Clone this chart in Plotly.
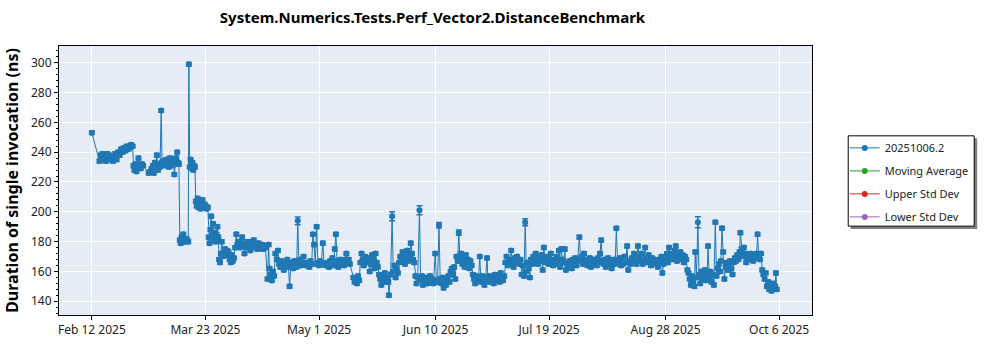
import pandas as pd
import plotly.graph_objects as go

TITLE = "System.Numerics.Tests.Perf_Vector2.DistanceBenchmark"
Y_TITLE = "Duration of single invocation (ns)"
SERIES_NAME = "20251006.2"
EMPTY_SERIES = ["Moving Average", "Upper Std Dev", "Lower Std Dev"]
EMPTY_COLORS = ["#2ca02c", "#d62728", "#9467bd"]

START = "2025-02-12"
# run offsets in days from START
days = [
    0.0, 2.6, 3.0, 3.3, 3.7, 4.0, 4.4, 4.8, 5.2, 5.6, 6.0, 6.4, 6.8, 7.2, 7.6, 8.0, 8.5, 9.0, 9.5, 10.0,
    10.5, 11.0, 11.5, 12.0, 12.5, 13.0, 13.5, 14.0,
    14.3, 14.6, 15.0, 15.3, 15.7, 16.0, 16.4, 16.8, 17.2, 17.6,
    19.5, 20.0, 20.5, 21.0, 21.3, 21.7, 22.0, 22.3, 22.7, 23.0, 23.4, 23.8, 24.1, 24.5, 25.0,
    25.5, 26.0, 26.4, 26.8, 27.2, 27.6, 28.0, 28.3, 28.7, 29.0, 29.3, 29.6, 29.9,
    30.2, 30.5, 30.8, 31.1, 31.4, 31.7, 32.0, 32.4, 32.8, 33.1, 33.3,
    33.6, 33.9, 34.2, 34.5, 34.8, 35.1, 35.4,
    35.7, 36.0, 36.3, 36.6, 37.0, 37.3, 37.6, 38.0, 38.3, 38.7, 39.0, 39.4, 39.8,
    40.1, 40.4, 40.7, 41.0, 41.3, 41.6, 41.9, 42.2, 42.5, 42.8, 43.1, 43.4,
    43.7, 44.0, 44.3, 44.6, 44.9,
    45.3, 45.7, 46.1, 46.5, 46.9, 47.3, 47.7, 48.0, 48.4, 48.8, 49.2,
    49.6, 50.0, 50.4, 50.8, 51.2, 51.6, 52.0, 52.4, 52.8, 53.2, 53.6, 54.0, 54.4, 54.8, 55.2, 55.6,
    56.0, 56.4, 56.8, 57.2, 57.6, 58.0, 58.4, 58.8, 59.2, 59.6,
    60.3, 60.7, 61.0, 61.4, 61.8, 62.2, 62.6, 63.0,
    63.5, 63.9, 64.3, 64.7, 65.1, 65.5, 65.9, 66.3, 66.7, 67.1, 67.5, 67.9, 68.3, 68.7, 69.1, 69.5,
    69.9, 70.3, 70.7, 71.1, 71.5, 71.9, 72.3, 72.7, 73.1,
    73.5, 73.9, 74.3, 74.7, 75.1, 75.5, 75.9, 76.3, 76.7, 77.2, 77.6, 78.0, 78.4, 78.8, 79.3, 79.8, 80.2,
    81.0, 81.4, 81.8, 82.2, 82.6, 83.0, 83.4, 83.8, 84.2, 84.6, 85.0, 85.4, 85.8, 86.2, 86.6, 87.0,
    87.4, 87.8, 88.2, 88.6,
    89.8, 90.2, 90.6, 91.0, 91.4, 91.8,
    92.2, 92.6, 93.0, 93.4, 93.8, 94.2, 94.6, 95.0, 95.4, 95.8, 96.2, 96.6, 97.0, 97.4, 97.8, 98.2,
    98.6, 99.0, 99.4, 99.8, 100.2, 100.6, 101.0, 101.4, 101.8, 102.0, 102.6, 103.1,
    103.5, 103.9, 104.3, 104.7, 105.1, 105.5, 105.9, 106.3, 106.7, 107.1, 107.5, 107.9, 108.3, 108.7,
    109.1, 109.5, 109.9, 110.3, 110.7, 111.1,
    111.5, 111.9, 112.5, 112.9, 113.3, 113.7, 114.1, 114.5, 114.9, 115.3, 115.7, 116.1, 116.5, 116.9,
    117.3, 117.9, 118.3, 118.7, 119.2, 119.6, 120.0, 120.4, 120.8, 121.2, 121.6, 122.0, 122.4, 122.8,
    123.2, 123.6,
    124.0, 124.4, 124.8, 125.2, 125.6, 126.0, 126.4, 126.8, 127.2, 127.6, 128.0, 128.4, 128.8, 129.2,
    129.6, 130.0, 130.4,
    130.8, 131.2, 131.6, 132.0, 132.4, 132.8, 133.2, 133.6, 134.0, 134.4, 134.8, 135.2, 135.7, 136.0,
    136.4, 136.8, 137.2, 137.6, 138.0, 138.4, 138.8, 139.2, 139.6, 140.0, 140.4, 140.8, 141.2, 141.6,
    142.0, 142.4, 142.8, 143.2, 143.6, 144.0, 144.4, 144.8, 145.2, 145.6, 146.0, 146.4, 146.8, 147.2,
    147.6, 148.0, 148.4, 148.8, 149.2, 149.6, 150.0, 150.4, 150.8, 151.2,
    151.6, 152.0, 152.4, 152.8, 153.2, 153.6, 154.0, 154.4, 154.8, 155.2, 155.6, 156.0, 156.4, 156.8,
    157.2, 157.6,
    158.0, 158.4, 158.8, 159.2, 159.6, 160.0, 160.4, 160.8, 161.2, 161.6, 162.0, 162.4, 162.8, 163.2,
    163.6, 164.0, 164.4, 164.8, 165.2, 165.6, 166.0, 166.4, 166.8, 167.4,
    167.8, 168.2, 168.6, 169.0, 169.4, 169.8, 170.2, 170.6, 171.0, 171.4, 171.8, 172.2, 172.6, 173.0,
    173.4, 173.8, 174.2, 174.5, 174.9, 175.3, 175.7, 176.1, 176.5, 176.9, 177.3, 177.7, 178.1, 178.5,
    178.9, 179.3, 179.7, 180.1, 180.5,
    180.9, 181.3, 181.7, 182.1, 182.5, 182.9, 183.3, 183.8, 184.2, 184.6, 185.0, 185.4, 185.8, 186.2,
    186.6, 187.0, 187.5, 187.9, 188.3, 188.7, 189.1, 189.5, 190.0, 190.4, 190.8, 191.2, 191.6, 192.0,
    192.4, 192.8, 193.2, 193.6, 194.0, 194.4, 194.8, 195.2, 195.6, 195.9, 196.3, 196.7, 197.1, 197.5,
    197.8, 198.2,
    198.6, 199.0, 199.4, 199.8, 200.2, 200.5, 200.9, 201.3, 201.7, 202.1, 202.5, 202.9, 203.3, 203.7,
    204.1, 204.5, 204.9,
    205.3, 205.7, 206.1, 206.5, 206.9, 207.2, 207.6, 208.1, 208.5, 208.9, 209.3, 209.7,
    210.1, 210.5, 210.9, 211.3, 211.6, 212.0, 212.4, 212.8, 213.2, 213.6, 214.1, 214.5,
    214.9, 215.3, 215.7, 216.0, 216.4, 216.8, 217.2, 217.6, 218.0, 218.4, 218.8, 219.2, 219.6, 220.0,
    220.4, 220.8, 221.2, 221.6, 222.0, 222.4, 222.7, 223.1, 223.5, 223.9, 224.3, 224.7, 225.1, 225.5,
    225.9, 226.3, 226.7, 227.1, 227.5, 227.9, 228.3, 228.6, 229.0, 229.4, 229.8,
    230.2, 230.6, 231.0, 231.4, 231.8, 232.2, 232.6, 233.0, 233.4, 233.8, 234.2, 234.6, 234.9, 235.2,
]

durations = [
    253, 234, 238, 236, 239, 235, 237, 234, 239, 236, 238, 235, 237, 234, 236, 239, 235, 240, 238, 242,
    240, 243, 241, 244, 242, 243, 245, 244,
    231, 228, 232, 227, 230, 236, 231, 229, 232, 231,
    226, 227, 229, 231, 226, 233, 230, 238, 228, 232, 230, 268, 233, 234, 231,
    235, 232, 230, 236, 233, 231, 235, 225, 232, 236, 240, 233, 232,
    181, 179, 183, 180, 185, 181, 180, 182, 181, 180, 299,
    230, 235, 229, 233, 228, 231, 230,
    207, 204, 209, 203, 206, 202, 205, 208, 203, 205, 204, 202, 203,
    183, 179, 188, 197, 184, 192, 181, 186, 180, 185, 190, 183,
    168, 166, 172, 180, 170,
    172, 175, 171, 174, 173, 168, 166, 171, 167, 169, 176,
    185, 178, 180, 176, 179, 183, 177, 172, 179, 176, 180, 178, 174, 179, 177, 181,
    176, 178, 175, 179, 177, 176, 178, 175, 177, 176,
    155, 178, 162, 158, 154, 160, 157, 172,
    168, 174, 165, 163, 167, 164, 161, 166, 165, 168, 163, 150, 164, 166, 162, 167,
    165, 163, 194, 166, 168, 164, 166, 170, 165,
    164, 166, 165, 163, 167, 165, 185, 178, 165, 190, 166, 164, 167, 166, 179, 165, 164,
    166, 163, 167, 165, 169, 164, 175, 185, 167, 163, 166, 168, 165, 167, 164, 168,
    172, 166, 168, 165,
    156, 153, 155, 152, 157, 154,
    166, 172, 168, 164, 170, 166, 169, 167, 160, 165, 171, 168, 162, 172, 166, 163,
    158, 155, 151, 157, 154, 159, 153, 156, 153, 144, 158, 197,
    160, 164, 156, 162, 159, 166, 170, 167, 173, 168, 165, 171, 174, 167,
    170, 179, 172, 168, 166, 157,
    152, 156, 201, 154, 157, 151, 155, 153, 156, 152, 154, 157, 153, 155,
    152, 172, 154, 153, 191, 155, 152, 156, 149, 154, 151, 155, 157, 153,
    160, 162,
    158, 163, 155, 170, 167, 186, 168, 172, 165, 169, 163, 171, 166, 168,
    162, 167, 164,
    158, 155, 152, 157, 154, 156, 170, 153, 157, 155, 151, 156, 169, 154,
    157, 153, 156, 155, 152, 158, 154, 157, 155, 153, 159, 156, 154, 157,
    166, 170, 164, 168, 165, 174, 167, 163, 169, 166, 170, 167, 165, 168,
    158, 164, 157, 193, 160, 166, 162, 156, 168, 165,
    170, 166, 172, 168, 165, 169, 167, 171, 161, 176, 168, 166, 170, 165,
    168, 172,
    166, 164, 168, 165, 170, 167, 174, 163, 175, 168, 166, 175, 161, 165,
    163, 167, 164, 162, 168, 166, 169, 164, 167, 183,
    168, 170, 165, 172, 166, 168, 164, 167, 169, 163, 166, 168, 165, 167,
    164, 169, 166, 172, 181, 167, 165, 168, 163, 166, 169, 165, 167, 162,
    166, 168, 165, 189, 167,
    166, 169, 164, 167, 165, 170, 166, 177, 161, 167, 165, 169, 166, 172,
    168, 165, 177, 170, 167, 172, 165, 168, 176, 169, 166, 171, 167, 164,
    169, 166, 168, 165, 167, 163, 168, 166, 170, 159, 165, 169, 167, 172,
    166, 176,
    170, 168, 172, 169, 174, 177, 167, 171, 169, 173, 168, 171, 166, 170,
    168, 161, 159,
    155, 151, 157, 153, 150, 173, 156, 193, 158, 152, 160, 155,
    158, 161, 154, 159, 177, 156, 160, 153, 158, 151, 193, 157,
    162, 165, 160, 167, 189, 173, 155, 163, 166, 161, 164, 167, 162, 158,
    166, 169, 167, 171, 168, 173, 186, 175, 170, 176, 172, 166, 169, 171,
    168, 172, 170, 167, 171, 169, 172, 185, 170, 168, 172,
    161, 158, 155, 159, 150, 153, 148, 151, 147, 152, 149, 150, 159, 148,
]

DEFAULT_ERR = 1.2
# larger error bars seen on a few runs (day offset -> half width)
err_big_days = [70.7, 102.6, 103.1, 112.5, 148.8, 208.1, 119.2, 126.0]
err_big_vals = [2.6, 1.5, 3.0, 3.0, 2.3, 3.7, 1.8, 1.8]

err_map = dict(zip(err_big_days, err_big_vals))
errors = [err_map.get(d, DEFAULT_ERR) for d in days]
dates = pd.Timestamp(START) + pd.to_timedelta(days, unit="D")

tick_vals = ["2025-02-12", "2025-03-23", "2025-05-01", "2025-06-10", "2025-07-19", "2025-08-28", "2025-10-06"]
tick_text = ["Feb 12 2025", "Mar 23 2025", "May 1 2025", "Jun 10 2025", "Jul 19 2025", "Aug 28 2025", "Oct 6 2025"]

FONT = "Segoe UI, Noto Sans, Open Sans, sans-serif"
BLUE = "#1f77b4"

fig = go.Figure()
fig.add_trace(go.Scatter(
    x=dates, y=durations, name=SERIES_NAME, mode="lines+markers", legendgroup="g0",
    line=dict(color=BLUE, width=1),
    marker=dict(color=BLUE, size=6),
    error_y=dict(type="data", array=errors, visible=True, color=BLUE, thickness=1.5, width=3),
))
for i, (nm, col) in enumerate(zip(EMPTY_SERIES, EMPTY_COLORS)):
    fig.add_trace(go.Scatter(x=[None], y=[None], name=nm, mode="lines+markers", legendgroup=f"g{i+1}",
                             line=dict(color=col, width=1), marker=dict(color=col, size=6)))

# legend frame drawn as shapes (pixel box converted to paper coords)
PX0, PX1, PY0, PY1 = 53, 812, 46, 320
def px_x(p):
    return (p - PX0) / (PX1 - PX0)
def px_y(p):
    return (PY1 - p) / (PY1 - PY0)
fig.add_shape(type="rect", xref="paper", yref="paper",
              x0=px_x(851), x1=px_x(978.5), y0=px_y(232.5), y1=px_y(140),
              fillcolor="#808080", line=dict(width=0), layer="above")
fig.add_shape(type="rect", xref="paper", yref="paper",
              x0=px_x(848.5), x1=px_x(975.5), y0=px_y(229.5), y1=px_y(137.5),
              fillcolor="white", line=dict(width=1, color="black"), layer="above")

fig.update_layout(
    width=1000, height=350,
    margin=dict(l=53, r=188, t=46, b=30),
    paper_bgcolor="white", plot_bgcolor="#E5ECF6",
    font=dict(family=FONT, size=12, color="#222"),
    title=dict(text="<b>" + TITLE + "</b>", x=(53 + 812) / 2 / 1000, xanchor="center",
               y=1 - 18 / 350, yanchor="middle", font=dict(size=15, color="black")),
    showlegend=True,
    legend=dict(x=px_x(845), y=px_y(135), xanchor="left", yanchor="top",
                bgcolor="rgba(0,0,0,0)", borderwidth=0, itemwidth=30,
                font=dict(size=11, color="#222"), tracegroupgap=4, groupclick="toggleitem"),
    xaxis=dict(range=["2025-01-31 17:00", "2025-10-17 07:00"],
               tickmode="array", tickvals=tick_vals, ticktext=tick_text,
               showgrid=True, gridcolor="white", gridwidth=1,
               showline=True, linecolor="black", linewidth=1, mirror=True,
               ticks="outside", ticklen=4, tickcolor="black",
               tickfont=dict(size=12, color="#222"), zeroline=False),
    yaxis=dict(range=[130.8, 311.2], tickmode="linear", tick0=140, dtick=20,
               showgrid=True, gridcolor="white", gridwidth=1,
               showline=True, linecolor="black", linewidth=1, mirror=True,
               ticks="outside", ticklen=4, tickcolor="black",
               minor=dict(dtick=4, ticks="outside", ticklen=2, tickcolor="black", showgrid=False),
               tickfont=dict(size=12, color="#222"), zeroline=False,
               title=dict(text="<b>" + Y_TITLE + "</b>", font=dict(size=16, color="black"), standoff=8)),
)

fig.write_html("out.html")
